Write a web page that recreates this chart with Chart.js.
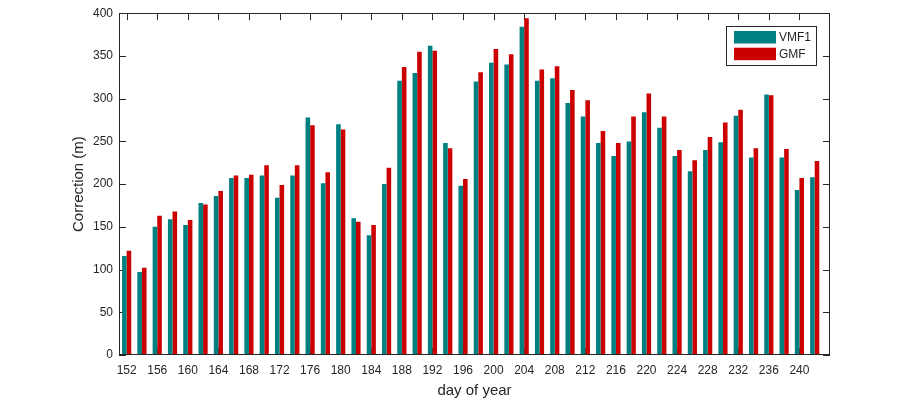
<!DOCTYPE html>
<html>
<head>
<meta charset="utf-8">
<script src="https://cdn.jsdelivr.net/npm/chart.js@4/dist/chart.umd.min.js"></script>
<style>
    html, body { margin: 0; padding: 0; background: #fff; }
    #wrap { width: 917px; height: 401px; }
</style>
</head>
<body>
<div id="wrap"><canvas id="corrChart" width="917" height="401"></canvas></div>
<script>
// day of year, every second day
const days = [152, 154, 156, 158, 160, 162, 164, 166, 168, 170, 172, 174, 176, 178, 180, 182,
    184, 186, 188, 190, 192, 194, 196, 198, 200, 202, 204, 206, 208, 210, 212, 214,
    216, 218, 220, 222, 224, 226, 228, 230, 232, 234, 236, 238, 240, 242];

const vmf1 = [116, 97, 150, 159, 152, 178, 186, 207, 207, 210, 184, 210, 278, 201, 270, 160,
    140, 200, 321, 330, 362, 248, 198, 320, 342, 340, 384, 321, 324, 295, 279, 248,
    233, 250, 284, 266, 233, 215, 240, 249, 280, 231, 305, 231, 193, 208];

const gmf = [122, 102, 163, 168, 158, 176, 192, 210, 211, 222, 199, 222, 269, 214, 264, 156,
    152, 219, 337, 355, 356, 242, 206, 331, 358, 352, 394, 334, 338, 310, 298, 262,
    248, 279, 306, 279, 240, 228, 255, 272, 287, 242, 304, 241, 207, 227];

const xTicks = [152, 156, 160, 164, 168, 172, 176, 180, 184, 188, 192, 196, 200, 204,
    208, 212, 216, 220, 224, 228, 232, 236, 240];
const yTicks = [0, 50, 100, 150, 200, 250, 300, 350, 400];

const axisColor = '#262626';
const font = 'Liberation Sans, Arial, Helvetica, sans-serif';

// box, inward tick marks and the legend, drawn the matlab way
const matlabAxes = {
    id: 'matlabAxes',
    beforeDatasetsDraw(chart) {
        // tick marks sit under the bars
        const { ctx, chartArea: a, scales } = chart;
        const tl = 7;
        ctx.save();
        ctx.strokeStyle = axisColor;
        ctx.lineWidth = 1;
        ctx.beginPath();
        xTicks.forEach(v => {
            const px = Math.round(scales.x.getPixelForValue(v)) + 0.5;
            ctx.moveTo(px, a.bottom); ctx.lineTo(px, a.bottom - tl);
            ctx.moveTo(px, a.top); ctx.lineTo(px, a.top + tl);
        });
        yTicks.forEach(v => {
            const py = Math.round(scales.y.getPixelForValue(v)) + 0.5;
            ctx.moveTo(a.left, py); ctx.lineTo(a.left + tl, py);
            ctx.moveTo(a.right, py); ctx.lineTo(a.right - tl, py);
        });
        ctx.stroke();
        ctx.restore();
    },
    afterDraw(chart) {
        const { ctx, chartArea: a } = chart;
        ctx.save();
        ctx.strokeStyle = axisColor;
        ctx.lineWidth = 1;
        ctx.strokeRect(Math.round(a.left) + 0.5, Math.round(a.top) + 0.5,
            Math.round(a.right - a.left) - 1, Math.round(a.bottom - a.top) - 1);

        // legend box in the upper right corner
        const lx = Math.round(a.right) - 103.5;
        const ly = Math.round(a.top) + 13.5;
        ctx.fillStyle = '#fff';
        ctx.fillRect(lx, ly, 90, 39);
        ctx.strokeRect(lx, ly, 90, 39);
        ctx.font = '12px ' + font;
        ctx.textBaseline = 'middle';
        chart.data.datasets.forEach((ds, i) => {
            const ry = ly + 4.5 + i * 16.7;
            ctx.fillStyle = ds.backgroundColor;
            ctx.fillRect(lx + 7.5, ry, 42, 12.5);
            ctx.fillStyle = axisColor;
            ctx.fillText(ds.label, lx + 52.5, ry + 6.5);
        });
        ctx.restore();
    }
};

const ctx = document.getElementById('corrChart').getContext('2d');
new Chart(ctx, {
    type: 'bar',
    data: {
        datasets: [
            {
                label: 'VMF1',
                data: days.map((d, i) => ({ x: d, y: vmf1[i] })),
                backgroundColor: 'rgb(0,128,128)',
                borderWidth: 0,
                categoryPercentage: 0.6,
                barPercentage: 1.0
            },
            {
                label: 'GMF',
                data: days.map((d, i) => ({ x: d, y: gmf[i] })),
                backgroundColor: 'rgb(204,0,0)',
                borderWidth: 0,
                categoryPercentage: 0.6,
                barPercentage: 1.0
            }
        ]
    },
    options: {
        responsive: false,
        animation: false,
        devicePixelRatio: 1,
        layout: { padding: { left: 0, right: 87, top: 11, bottom: 0 } },
        plugins: {
            legend: { display: false },
            tooltip: { enabled: false }
        },
        scales: {
            x: {
                type: 'linear',
                min: 151,
                max: 244,
                offset: false,
                grid: { display: false, offset: false, drawTicks: false },
                border: { display: false },
                afterBuildTicks: scale => { scale.ticks = xTicks.map(v => ({ value: v })); },
                afterFit: scale => { scale.height = 46; },
                ticks: {
                    autoSkip: false,
                    maxRotation: 0,
                    padding: 8,
                    color: axisColor,
                    font: { family: font, size: 12 }
                },
                title: {
                    display: true,
                    text: 'day of year',
                    color: axisColor,
                    padding: { top: 0, bottom: 1 },
                    font: { family: font, size: 15 }
                }
            },
            y: {
                min: 0,
                max: 400,
                grid: { display: false, drawTicks: false },
                border: { display: false },
                afterBuildTicks: scale => { scale.ticks = yTicks.map(v => ({ value: v })); },
                afterFit: scale => { scale.width = 119; },
                ticks: {
                    padding: 6,
                    color: axisColor,
                    font: { family: font, size: 12 }
                },
                title: {
                    display: true,
                    text: 'Correction (m)',
                    color: axisColor,
                    padding: { top: 70, bottom: 0 },
                    font: { family: font, size: 15 }
                }
            }
        }
    },
    plugins: [matlabAxes]
});
</script>
</body>
</html>
